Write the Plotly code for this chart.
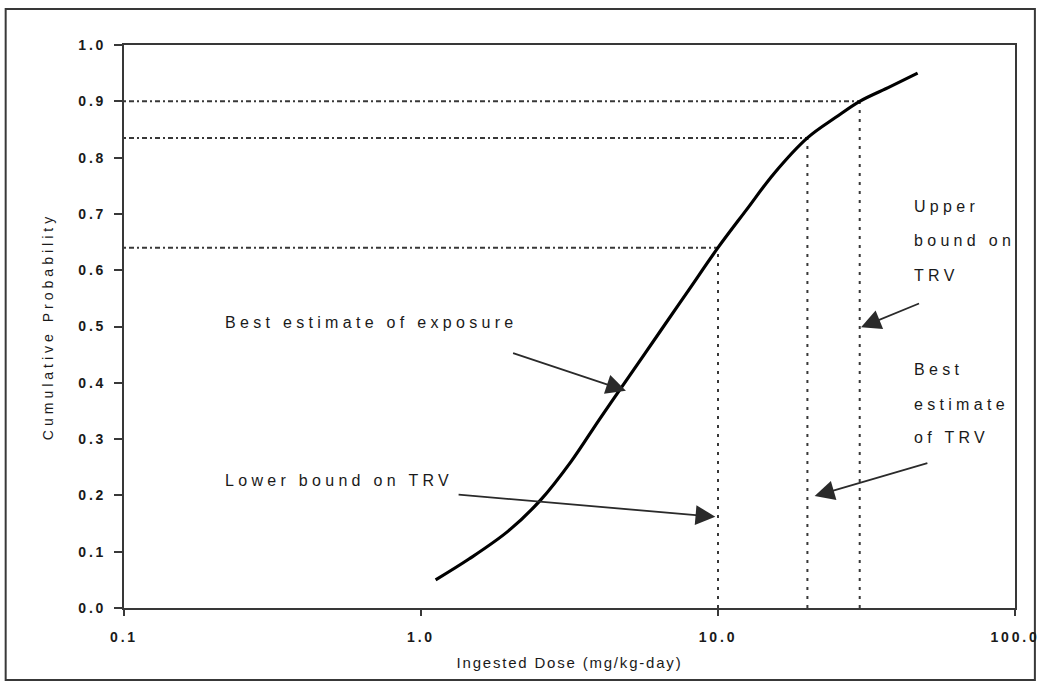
import numpy as np
import plotly.graph_objects as go

# ---- data ----
dose = [1.12, 1.45, 1.97, 2.53, 3.2, 4.0, 5.0, 6.4, 8.0, 10, 12.5, 15.4, 20, 25, 30, 38, 47]
prob = [0.05, 0.087, 0.137, 0.192, 0.260, 0.336, 0.410, 0.492, 0.566, 0.64, 0.708, 0.771, 0.835, 0.872, 0.90, 0.926, 0.95]

trv_dose = [10, 20, 30]          # lower bound, best estimate, upper bound of TRV
trv_prob = [0.64, 0.835, 0.9]

x_tickvals = [0.1, 1, 10, 100]
x_ticktext = ["0.1", "1.0", "10.0", "100.0"]

INK = "#1a1a1a"
AXC = "#383838"

fig = go.Figure()

# reference (dotted) lines
for d, p in zip(trv_dose, trv_prob):
    fig.add_trace(go.Scatter(x=[x_tickvals[0], d], y=[p, p], mode="lines",
                             line=dict(color=AXC, width=2, dash="2px,3px,5px,3px"),
                             hoverinfo="skip", showlegend=False))
    fig.add_trace(go.Scatter(x=[d, d], y=[0, p], mode="lines",
                             line=dict(color=AXC, width=2, dash="3px,6px"),
                             hoverinfo="skip", showlegend=False))

# cumulative curve
fig.add_trace(go.Scatter(x=dose, y=prob, mode="lines",
                         line=dict(color="black", width=3.2, shape="spline", smoothing=1.0),
                         showlegend=False))

afont = dict(family="Liberation Sans, Arial", size=16, color=INK)

def L(v):
    return float(np.log10(v))

annotations = []
# text labels
annotations.append(dict(x=L(0.1) + (224 - 124) / 299, y=0.507, xref="x", yref="y",
                        text="Best estimate of exposure", showarrow=False,
                        xanchor="left", yanchor="middle", align="left", font=afont))
annotations.append(dict(x=L(0.1) + (224 - 124) / 299, y=0.227, xref="x", yref="y",
                        text="Lower bound on TRV", showarrow=False,
                        xanchor="left", yanchor="middle", align="left", font=afont))
upper_lines = ["Upper", "bound on", "TRV"]
for t, yy in zip(upper_lines, [0.714, 0.653, 0.591]):
    annotations.append(dict(x=1.652, y=yy, xref="x", yref="y", text=t, showarrow=False,
                            xanchor="left", yanchor="middle", align="left", font=afont))
best_lines = ["Best", "estimate", "of TRV"]
for t, yy in zip(best_lines, [0.423, 0.361, 0.302]):
    annotations.append(dict(x=1.652, y=yy, xref="x", yref="y", text=t, showarrow=False,
                            xanchor="left", yanchor="middle", align="left", font=afont))

# arrows (tail -> head)
arrows = [
    ((0.305, 0.4535), (0.690, 0.386)),
    ((0.1215, 0.2015), (0.991, 0.162)),
    ((1.682, 0.542), (1.4816, 0.4986)),
    ((1.710, 0.258), (1.3254, 0.199)),
]
for (tx, ty), (hx, hy) in arrows:
    annotations.append(dict(x=hx, y=hy, ax=tx, ay=ty, xref="x", yref="y",
                            axref="x", ayref="y", text="", showarrow=True,
                            arrowhead=2, arrowsize=2.2, arrowwidth=1.8,
                            arrowcolor="#2a2a2a", standoff=0, startstandoff=0))

tickfont = dict(family="Liberation Sans, Arial", size=14, color=INK, weight="bold")

fig.update_layout(
    width=1045, height=684, autosize=False,
    margin=dict(l=124, r=25, t=45, b=76, pad=0),
    paper_bgcolor="white", plot_bgcolor="white",
    annotations=annotations,
    xaxis=dict(type="log", range=[-1, 2], tickvals=x_tickvals, ticktext=x_ticktext,
               ticks="outside", ticklen=6, tickwidth=2, tickcolor=AXC,
               showline=True, linecolor=AXC, linewidth=2, mirror=True,
               showgrid=False, zeroline=False, tickfont=tickfont,
               ticklabelstandoff=9,
               title=dict(text="Ingested Dose (mg/kg-day)", standoff=14,
                          font=dict(family="Liberation Sans, Arial", size=15, color=INK))),
    yaxis=dict(range=[0, 1], dtick=0.1, tick0=0, tickformat=".1f",
               ticks="outside", ticklen=8, tickwidth=2, tickcolor=AXC,
               showline=True, linecolor=AXC, linewidth=2, mirror=True,
               showgrid=False, zeroline=False, tickfont=tickfont,
               ticklabelstandoff=5,
               title=dict(text="Cumulative Probability", standoff=30,
                          font=dict(family="Liberation Sans, Arial", size=14, color=INK))),
    shapes=[dict(type="rect", xref="paper", yref="paper",
                 x0=(5 - 124) / 896, x1=(1040 - 124) / 896,
                 y0=(608 - 680) / 563, y1=(608 - 9) / 563,
                 line=dict(color=AXC, width=2), fillcolor="rgba(0,0,0,0)", layer="below")],
)

post = """
document.body.style.margin = '0';
document.body.style.padding = '0';
var gd = document.getElementById('{plot_id}');
function sp(sel, v){ gd.querySelectorAll(sel).forEach(function(t){ t.style.letterSpacing = v; }); }
function applySpacing(){
  sp('.annotation-text', '4.3px');
  sp('.xtick text', '2.8px');
  sp('.ytick text', '2.8px');
  sp('.g-xtitle text', '1.8px');
  sp('.g-ytitle text', '4px');
}
applySpacing();
if (gd.on) { gd.on('plotly_afterplot', applySpacing); }
"""

fig.write_html("out.html", post_script=post, config={"displayModeBar": False})
